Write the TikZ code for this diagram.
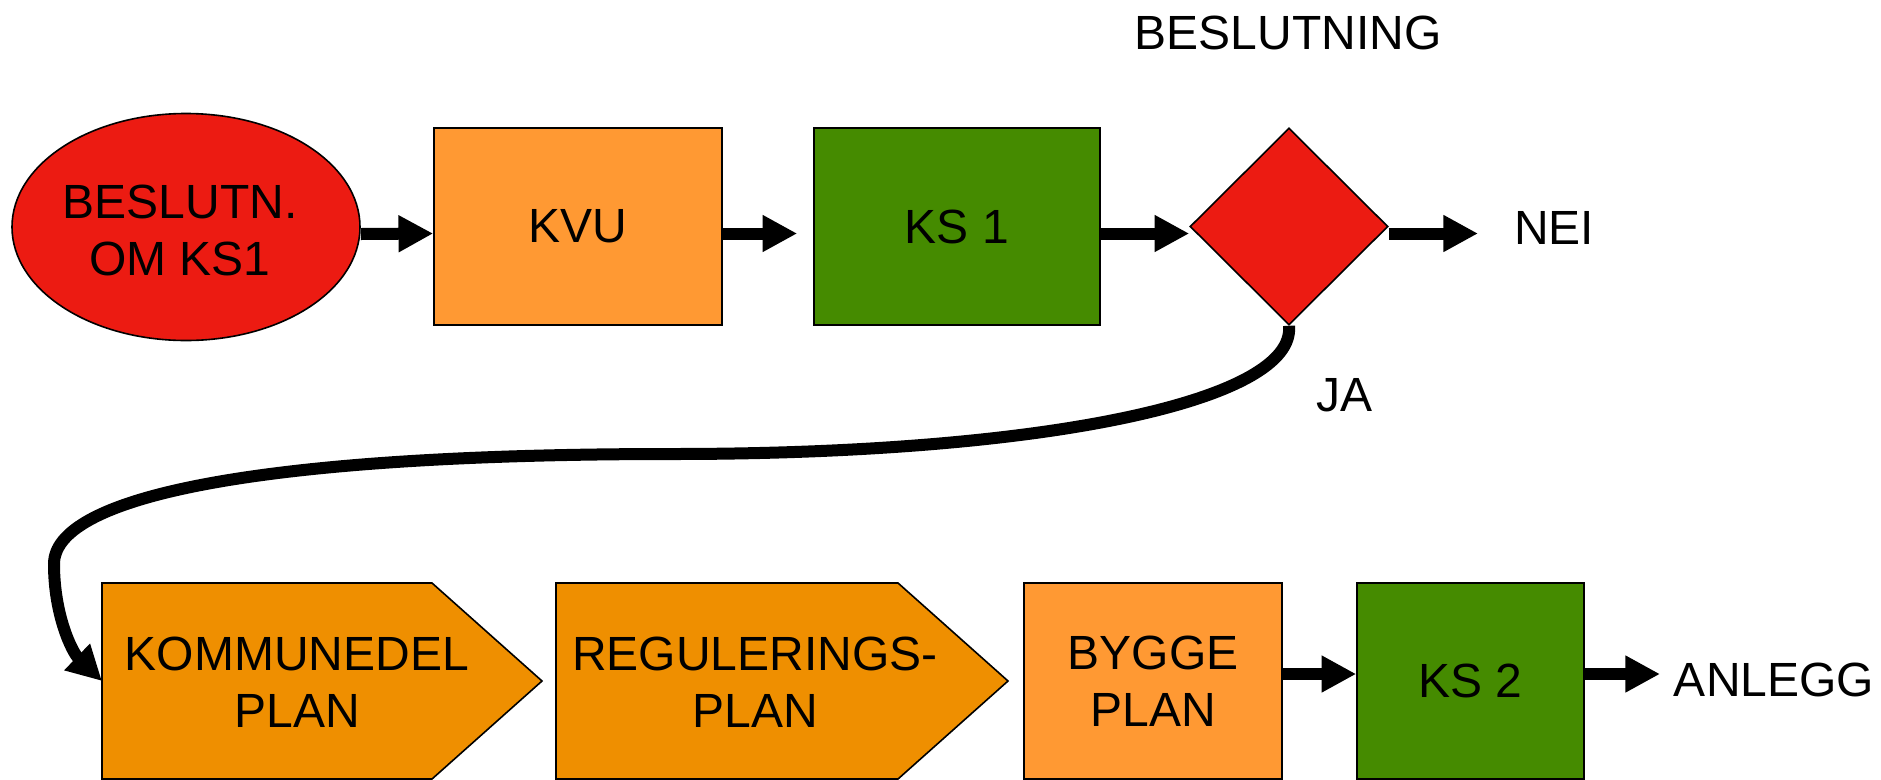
\documentclass[tikz,border=0pt]{standalone}
\usepackage{fontspec}
\setmainfont{Liberation Sans}
\usetikzlibrary{shapes.geometric,arrows.meta}

\tikzset{every picture/.style={line width=0.75pt}}
\tikzset{
  box/.style={draw, line width=1.2pt, inner sep=0pt, align=center},
  redfill/.style={fill={rgb, 255:red, 236; green, 27; blue, 18 }},
  orangefill/.style={fill={rgb, 255:red, 255; green, 153; blue, 51 }},
  darkorangefill/.style={fill={rgb, 255:red, 239; green, 143; blue, 0 }},
  greenfill/.style={fill={rgb, 255:red, 69; green, 139; blue, 0 }},
  arr/.style={line width=9pt, -{Triangle[length=26pt,width=26pt]}},
  lbl/.style={inner sep=0pt, align=center}
}

\begin{document}
\begin{tikzpicture}[x=0.75pt,y=0.75pt,yscale=-1,xscale=1]
\fontsize{36}{42.75}\selectfont
\useasboundingbox (0,0) rectangle (1881,779);

%Shape: Ellipse
\node [box, redfill, ellipse, minimum width=261pt, minimum height=170.25pt] (ell) at (186,227) {};
\node [lbl] (elltxt) at (180,230) {BESLUTN.\\OM KS1};
%Shape: Rectangle
\node [box, orangefill, minimum width=216pt, minimum height=147.75pt] (kvu) at (578,226.5) {KVU};
%Shape: Rectangle
\node [box, greenfill, minimum width=214.5pt, minimum height=147.75pt] (ks1) at (957,226.5) {KS 1};
%Shape: Diamond
\node [box, redfill, diamond, minimum width=148.5pt, minimum height=147.75pt] (dia) at (1289,226.5) {};

%Shape: Pentagon
\draw [line width=1.2pt, darkorangefill] (102,583) -- (432,583) -- (542,681) -- (432,779) -- (102,779) -- cycle ;
\coordinate (kdpw) at (102,681);
\node [lbl] (kdp) at (297,682) {KOMMUNEDEL\\PLAN};
%Shape: Pentagon
\draw [line width=1.2pt, darkorangefill] (556,583) -- (898,583) -- (1008,681) -- (898,779) -- (556,779) -- cycle ;
\node [lbl] (reg) at (755,682) {REGULERINGS-\\PLAN};
%Shape: Rectangle
\node [box, orangefill, minimum width=193.5pt, minimum height=147pt] (byg) at (1153,681) {BYGGE\\PLAN};
%Shape: Rectangle
\node [box, greenfill, minimum width=170.25pt, minimum height=147pt] (ks2) at (1470.5,681) {KS 2};

% Text Node
\node [lbl] (besl) at (1288,33) {BESLUTNING};
\node [lbl] (nei) at (1554,228) {NEI};
\node [lbl] (ja) at (1344,395) {JA};
\node [lbl] (anl) at (1774,680) {ANLEGG};
\coordinate (neiend) at (1478,233.5);
\coordinate (anlend) at (1660,674);

%Straight Lines
\draw [arr] ([yshift=5.25pt]ell.east) -- ([yshift=5.25pt]kvu.west) ;
\draw [arr, shorten >=12pt] ([yshift=5.25pt]kvu.east) -- ([yshift=5.25pt]ks1.west) ;
\draw [arr] ([yshift=5.25pt]ks1.east) -- ([yshift=5.25pt]dia.west) ;
\draw [arr] ([yshift=5.25pt]dia.east) -- (neiend) ;
\draw [arr] ([yshift=-5.25pt]byg.east) -- ([yshift=-5.25pt]ks2.west) ;
\draw [arr] ([yshift=-5.25pt]ks2.east) -- (anlend) ;
%Curve Lines
\draw [arr] (dia.south) .. controls (1296,400) and (1050,454) .. (672,454) .. controls (250,454) and (54,498) .. (54,564) .. controls (54,615) and (72,652) .. (kdpw) ;

\end{tikzpicture}
\end{document}
